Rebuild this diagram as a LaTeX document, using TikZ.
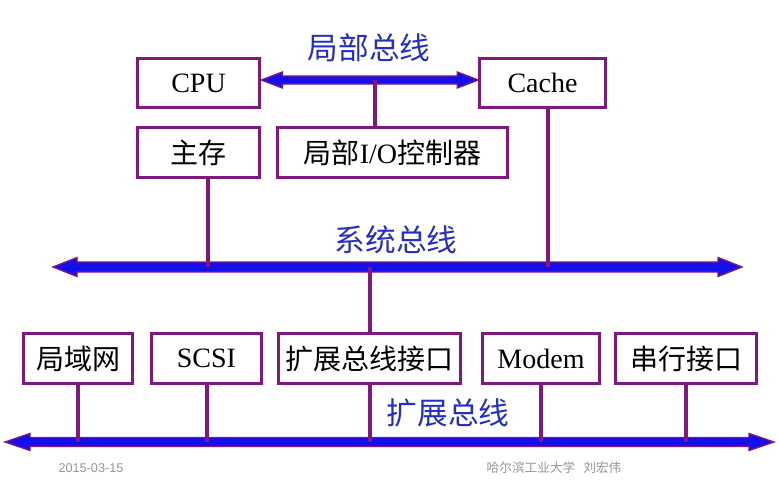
\documentclass[tikz,border=0pt]{standalone}
\usepackage{fontspec}
\setmainfont{Liberation Serif}
\newfontfamily\cjk{Noto Sans CJK SC}
\newfontfamily\footsans{Liberation Sans}
\usetikzlibrary{calc}

\definecolor{boxpurple}{RGB}{128,24,128}
\definecolor{busblue}{RGB}{20,15,235}
\definecolor{labelblue}{RGB}{35,45,200}
\definecolor{footgray}{RGB}{150,150,150}

% double-headed bus arrow between two points: tips #1 and #2
% #3 = half shaft width, #4 = half head width, #5 = head length (all in px)
\newcommand\busarrow[5]{%
  \filldraw[busline]
    (#1) -- ($(#1)+(#5,-#4)$) -- ($(#1)+(#5,-#3)$) --
    ($(#2)+(-#5,-#3)$) -- ($(#2)+(-#5,-#4)$) -- (#2) --
    ($(#2)+(-#5,#4)$) -- ($(#2)+(-#5,#3)$) --
    ($(#1)+(#5,#3)$) -- ($(#1)+(#5,#4)$) -- cycle;}

\begin{document}
\begin{tikzpicture}[x=0.75pt,y=-0.75pt,
  unit/.style={draw=boxpurple, line width=2.3pt, fill=white, inner sep=0pt,
    minimum height=37pt, font=\fontsize{21}{24}\selectfont},
  link/.style={draw=boxpurple, line width=2.3pt},
  busline/.style={fill=busblue, draw=boxpurple, line width=1pt, line join=miter},
  buslabel/.style={text=labelblue, font=\cjk\fontsize{23}{26}\selectfont},
  foot/.style={text=footgray, font=\fontsize{9.5}{11}\selectfont}]
\useasboundingbox (0,0) rectangle (780,492);

% bus levels
\coordinate (lb) at (0,80);
\coordinate (sys) at (0,267);
\coordinate (exp) at (0,442);

% attachment columns
\coordinate (xlio) at (375,0);
\coordinate (xmem) at (208,0);
\coordinate (xcache) at (548,0);
\coordinate (xext) at (370,0);
\coordinate (xlan) at (78,0);
\coordinate (xscsi) at (207,0);
\coordinate (xmodem) at (541,0);
\coordinate (xserial) at (686,0);

% top units
\node[unit, minimum width=92pt] (cpu) at (198.5,83) {CPU};
\node[unit, minimum width=94pt] (cache) at (542.5,83) {Cache};
\node[unit, minimum width=92pt] (mem) at (198.5,152.5) {\cjk 主存};
\node[unit, minimum width=173pt] (lio) at (392.5,152.5) {{\cjk 局部}I/O{\cjk 控制器}};

% expansion units
\node[unit, minimum width=82pt] (lan) at (78,358.5) {\cjk 局域网};
\node[unit, minimum width=83pt] (scsi) at (206.5,358.5) {SCSI};
\node[unit, minimum width=137pt] (ext) at (369.5,358.5) {\cjk 扩展总线接口};
\node[unit, minimum width=88pt] (modem) at (541,358.5) {Modem};
\node[unit, minimum width=106pt] (serial) at (686,358.5) {\cjk 串行接口};

% buses
\coordinate (sysL) at (53,267);
\coordinate (sysR) at (742,267);
\coordinate (expL) at (5,442);
\coordinate (expR) at (774,442);
\busarrow{cpu.east |- lb}{cache.west |- lb}{4}{8}{21}
\busarrow{sysL}{sysR}{5}{9.5}{24}
\busarrow{expL}{expR}{4.5}{8.5}{25}

% drops to the buses
\draw[link] (xlio |- lio.north) -- (xlio |- lb);
\draw[link] (xmem |- mem.south) -- (xmem |- sys);
\draw[link] (xcache |- cache.south) -- (xcache |- sys);
\draw[link] (xext |- sys) -- (xext |- ext.north);
\draw[link] (xext |- ext.south) -- (xext |- exp);
\draw[link] (xlan |- lan.south) -- (xlan |- exp);
\draw[link] (xscsi |- scsi.south) -- (xscsi |- exp);
\draw[link] (xmodem |- modem.south) -- (xmodem |- exp);
\draw[link] (xserial |- serial.south) -- (xserial |- exp);

% bus names
\node[buslabel] (lbname) at (369,48) {局部总线};
\node[buslabel] (sysname) at (396,240) {系统总线};
\node[buslabel] (expname) at (448,413) {扩展总线};

% footer
\node[foot, font=\footsans\fontsize{9.5}{11}\selectfont] (date) at (91,468) {2015-03-15};
\node[foot, font=\cjk\fontsize{9.5}{11}\selectfont] (author) at (554,468) {哈尔滨工业大学\hspace{6pt}刘宏伟};
\end{tikzpicture}
\end{document}
